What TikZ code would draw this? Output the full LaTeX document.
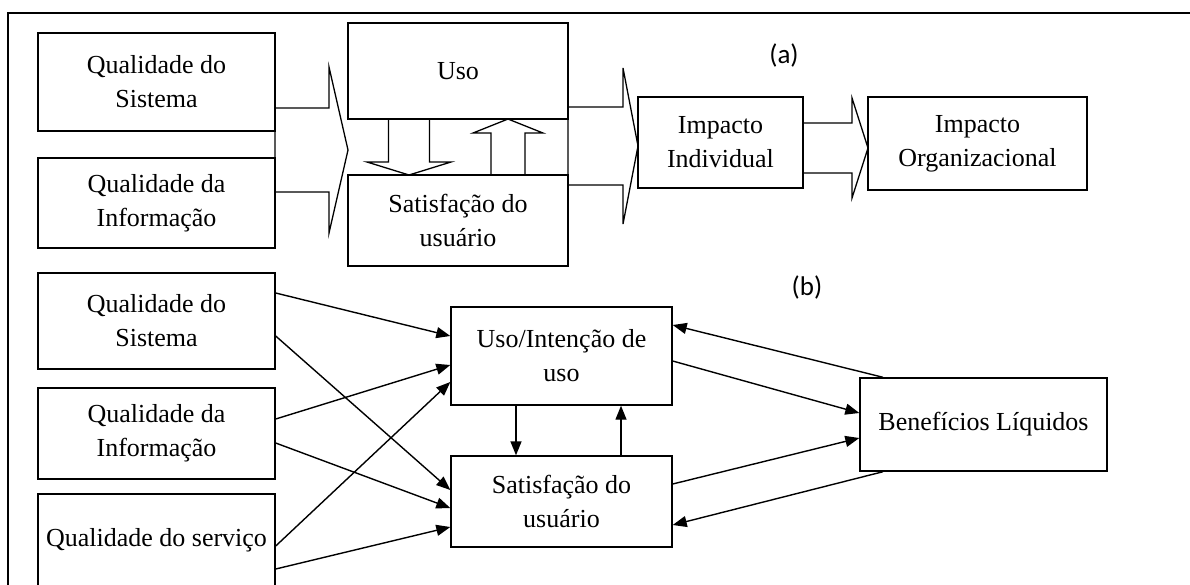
\documentclass[tikz,border=0pt]{standalone}
\usepackage{fontspec}
\setmainfont{Liberation Serif}
\newfontfamily\rotulofont{Carlito}
\usetikzlibrary{arrows.meta}

\tikzset{
  caixa/.style={draw, line width=1.4pt, fill=white, align=center, inner sep=0pt,
    font=\fontsize{26}{34}\selectfont},
  seta/.style={line width=1.4pt, -{Triangle[length=14pt,width=11pt]}},
  setabloco/.style={draw, line width=1.3pt, fill=white},
  rotulo/.style={font=\rotulofont\fontsize{27}{30}\selectfont},
}

% seta larga horizontal: inicio, pescoco, ponta, y, meia haste, meia cabeca
\newcommand{\setaH}[6]{%
  \draw[setabloco] (#1,#4-#5) -- (#2,#4-#5) -- (#2,#4-#6) -- (#3,#4)
    -- (#2,#4+#6) -- (#2,#4+#5) -- (#1,#4+#5) -- cycle;}
% seta larga vertical: x, inicio, pescoco, ponta, meia haste, meia cabeca
\newcommand{\setaV}[6]{%
  \draw[setabloco] (#1-#5,#2) -- (#1-#5,#3) -- (#1-#6,#3) -- (#1,#4)
    -- (#1+#6,#3) -- (#1+#5,#3) -- (#1+#5,#2) -- cycle;}

\begin{document}
\begin{tikzpicture}[x=1pt, y=-1pt]
  \useasboundingbox (0,0) rectangle (1190,584);
  \clip (0,0) rectangle (1190,584);
  \draw[line width=1.4pt] (8,13) rectangle (1260,660);

  % (a)
  \setaH{275}{329}{348}{150}{42}{83}
  \setaH{568}{623}{638}{146}{39}{78}
  \setaH{803}{852}{868}{148}{25}{50}
  \setaV{409}{119}{162}{175}{20.5}{42}
  \setaV{508}{175}{133}{119}{17}{35}

  \node[caixa, minimum width=237pt, minimum height=98pt] (QSa) at (156.5,82) {Qualidade do\\Sistema};
  \node[caixa, minimum width=237pt, minimum height=90pt] (QIa) at (156.5,203) {Qualidade da\\Informação};
  \node[caixa, minimum width=220pt, minimum height=96pt] (USa) at (458,71) {Uso};
  \node[caixa, minimum width=220pt, minimum height=91pt] (SAa) at (458,220.5) {Satisfação do\\usuário};
  \node[caixa, minimum width=165pt, minimum height=91pt] (IIa) at (720.5,142.5) {Impacto\\Individual};
  \node[caixa, minimum width=219pt, minimum height=93pt] (IOa) at (977.5,143.5) {Impacto\\Organizacional};
  \node[rotulo] (ra) at (784,55) {(a)};

  % (b)
  \node[caixa, minimum width=237pt, minimum height=96pt] (QSb) at (156.5,321) {Qualidade do\\Sistema};
  \node[caixa, minimum width=237pt, minimum height=91pt] (QIb) at (156.5,433.5) {Qualidade da\\Informação};
  \node[caixa, minimum width=237pt, minimum height=92pt] (QVb) at (156.5,540) {Qualidade do serviço};
  \node[caixa, minimum width=221pt, minimum height=98pt] (USb) at (561.5,356) {Uso/Intenção de\\uso};
  \node[caixa, minimum width=221pt, minimum height=91pt] (SAb) at (561.5,501.5) {Satisfação do\\usuário};
  \node[caixa, minimum width=247pt, minimum height=93pt] (BLb) at (983.5,424.5) {Benefícios Líquidos};
  \node[rotulo] (rb) at (807,287) {(b)};

  \draw[seta] ([yshift=28pt]QSb.east) -- ([yshift=20pt]USb.west);
  \draw[seta] ([yshift=-15pt]QSb.east) -- ([yshift=11.5pt]SAb.west);
  \draw[seta] ([yshift=14.5pt]QIb.east) -- ([yshift=-9pt]USb.west);
  \draw[seta] ([yshift=-9.5pt]QIb.east) -- ([yshift=-6.5pt]SAb.west);
  \draw[seta] ([yshift=-6pt]QVb.east) -- ([yshift=-26pt]USb.west);
  \draw[seta] ([yshift=-29pt]QVb.east) -- ([yshift=-25.5pt]SAb.west);
  \draw[seta] ([xshift=-45.5pt]USb.south) -- ([xshift=-45.5pt]SAb.north);
  \draw[seta] ([xshift=59.5pt]SAb.north) -- ([xshift=59.5pt]USb.south);
  \draw[seta] ([yshift=-5pt]USb.east) -- ([yshift=11.5pt]BLb.west);
  \draw[seta] ([xshift=-100.5pt]BLb.north) -- ([yshift=31pt]USb.east);
  \draw[seta] ([yshift=17.5pt]SAb.east) -- ([yshift=-13.5pt]BLb.west);
  \draw[seta] ([xshift=-100.5pt]BLb.south) -- ([yshift=-23.5pt]SAb.east);
\end{tikzpicture}
\end{document}
